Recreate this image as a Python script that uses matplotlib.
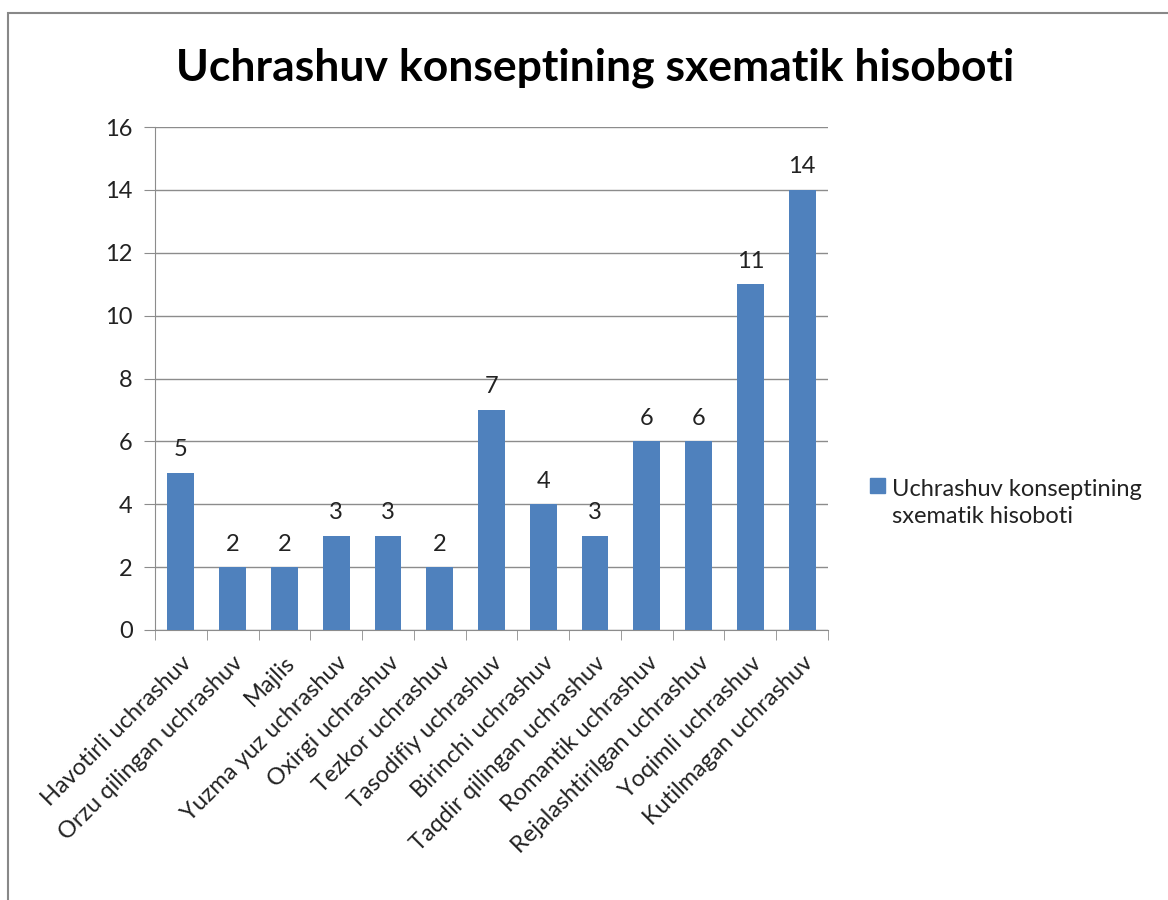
import numpy as np
import matplotlib.pyplot as plt
from matplotlib.patches import Rectangle

categories = ["Havotirli uchrashuv", "Orzu qilingan uchrashuv", "Majlis",
              "Yuzma yuz uchrashuv", "Oxirgi uchrashuv", "Tezkor uchrashuv",
              "Tasodifiy uchrashuv", "Birinchi uchrashuv", "Taqdir qilingan uchrashuv",
              "Romantik uchrashuv", "Rejalashtirilgan uchrashuv", "Yoqimli uchrashuv",
              "Kutilmagan uchrashuv"]
values = [5, 2, 2, 3, 3, 2, 7, 4, 3, 6, 6, 11, 14]
series_name = "Uchrashuv konseptining\nsxematik hisoboti"
title = "Uchrashuv konseptining sxematik hisoboti"

plt.rcParams['font.family'] = ['Lato', 'DejaVu Sans']
blue = '#4F81BD'
txt = '#222222'
fs = 17

fig = plt.figure(figsize=(11.68, 9), dpi=100)
W, H = 1168, 900
# outer chart frame
fig.add_artist(Rectangle((8 / W, -0.01), 1.2, 1 - 13 / H + 0.01, transform=fig.transFigure,
                         fill=False, edgecolor='#888888', linewidth=1.5))

ax = fig.add_axes([155 / W, 1 - 630 / H, (828 - 155) / W, (630 - 127) / H])
x = np.arange(len(categories))
bars = ax.bar(x, values, width=0.52, color=blue, zorder=3)
for b, v in zip(bars, values):
    ax.text(b.get_x() + b.get_width() / 2, v + 0.4, str(v), ha='center', va='bottom',
            fontsize=fs, color=txt)

ax.set_xlim(-0.5, len(categories) - 0.5)
ax.set_ylim(0, 16)
ax.set_yticks(range(0, 17, 2))
ax.yaxis.grid(True, color='#8c8c8c', linewidth=1, zorder=0)
ax.tick_params(axis='y', labelsize=fs, length=8, color='#8c8c8c', labelcolor=txt, pad=8)
ax.set_xticks(x)
ax.set_xticklabels(categories, rotation=45, ha='right', rotation_mode='anchor',
                   fontsize=fs, color=txt)
ax.tick_params(axis='x', length=0, pad=16)
ax.set_xticks(np.arange(-0.5, len(categories), 1), minor=True)
ax.tick_params(axis='x', which='minor', length=7, color='#8c8c8c')
for s in ['top', 'right']:
    ax.spines[s].set_visible(False)
for s in ['left', 'bottom']:
    ax.spines[s].set_color('#8c8c8c')

fig.text(595 / W, 1 - 68 / H, title, ha='center', va='center',
         fontsize=32, fontweight='bold', color='black')

fig.add_artist(Rectangle((870 / W, 1 - 493 / H), 15 / W, 15 / H, transform=fig.transFigure,
                         color=blue))
fig.text(892 / W, 1 - 503 / H, series_name, ha='left', va='center', fontsize=fs,
         color=txt, linespacing=1.3)

fig.savefig('out.png', dpi=100)
